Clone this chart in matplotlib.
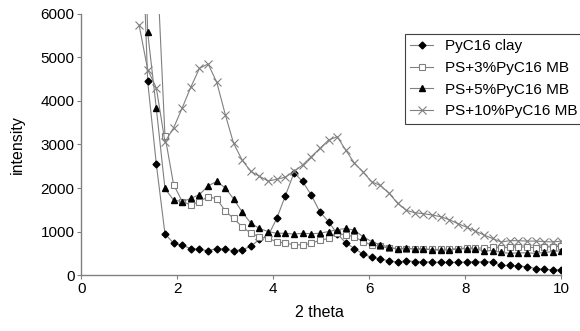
import matplotlib.pyplot as plt
import numpy as np

plt.rcParams.update({'font.family': ['Liberation Sans', 'DejaVu Sans'], 'font.size': 10})

# 2 theta positions
theta = [1.20, 1.38, 1.56, 1.74, 1.92, 2.10, 2.28, 2.46, 2.64, 2.82,
         3.00, 3.17, 3.35, 3.53, 3.71, 3.89, 4.07, 4.25, 4.43, 4.61,
         4.79, 4.97, 5.15, 5.33, 5.51, 5.69, 5.87, 6.05, 6.23, 6.41,
         6.59, 6.77, 6.95, 7.13, 7.31, 7.49, 7.67, 7.85, 8.03, 8.21,
         8.39, 8.57, 8.75, 8.93, 9.11, 9.29, 9.47, 9.65, 9.83, 10.00]

clay = [10000, 4450, 2550, 950, 730, 680, 610, 590, 560, 610,
        590, 560, 580, 660, 820, 900, 1300, 1820, 2350, 2150,
        1840, 1450, 1230, 950, 740, 610, 480, 410, 370, 330,
        290, 330, 310, 300, 300, 290, 290, 290, 300, 300,
        310, 300, 220, 220, 210, 190, 150, 130, 120, 120]

mb3 = [60000, 40000, 7500, 3200, 2080, 1690, 1610, 1690, 1800, 1750,
       1470, 1300, 1110, 960, 880, 840, 770, 730, 700, 690,
       730, 800, 840, 960, 920, 880, 770, 690, 660, 620,
       610, 610, 600, 600, 590, 590, 600, 600, 630, 620,
       620, 640, 620, 640, 650, 640, 630, 640, 650, 660]

mb5 = [12000, 5580, 3830, 1990, 1720, 1690, 1760, 1850, 2050, 2150,
       2000, 1750, 1450, 1190, 1070, 1000, 960, 960, 940, 960,
       950, 960, 1000, 1040, 1070, 1030, 880, 770, 690, 650,
       590, 620, 600, 600, 580, 570, 580, 600, 610, 600,
       560, 560, 520, 500, 510, 510, 500, 520, 540, 560]

mb10 = [5750, 4720, 4300, 3060, 3380, 3840, 4320, 4750, 4850, 4430,
        3680, 3030, 2640, 2380, 2270, 2160, 2200, 2250, 2380, 2530,
        2720, 2910, 3100, 3180, 2870, 2570, 2370, 2140, 2060, 1880,
        1650, 1490, 1430, 1410, 1380, 1340, 1270, 1180, 1100, 1010,
        920, 840, 760, 790, 790, 780, 780, 770, 760, 780]

labels = ['PyC16 clay', 'PS+3%PyC16 MB', 'PS+5%PyC16 MB', 'PS+10%PyC16 MB']

gr = '#808080'
fig = plt.figure(figsize=(5.8, 3.31), dpi=100)
ax = fig.add_axes([0.1405, 0.169, 0.827, 0.789])

ax.plot(theta, clay, color=gr, lw=0.8, marker='D', ms=3.5, mfc='black', mec='black', label=labels[0])
ax.plot(theta, mb3, color=gr, lw=0.8, marker='s', ms=5, mfc='white', mec=gr, mew=0.8, label=labels[1])
ax.plot(theta, mb5, color=gr, lw=0.8, marker='^', ms=4.5, mfc='black', mec='black', label=labels[2])
ax.plot(theta, mb10, color=gr, lw=0.8, marker='x', ms=6, mec=gr, mew=0.8, label=labels[3])

ax.set_xlim(0, 10)
ax.set_ylim(0, 6000)
ax.set_xticks(np.arange(0, 11, 2))
ax.set_yticks(np.arange(0, 7000, 1000))
for s in ['top', 'right']:
    ax.spines[s].set_visible(False)
for s in ['left', 'bottom']:
    ax.spines[s].set_color(gr)
    ax.spines[s].set_linewidth(1.0)
ax.tick_params(direction='out', length=3, color=gr, labelsize=11, pad=2)
ax.set_xlabel('2 theta', fontsize=11.5)
ax.set_ylabel('intensity', fontsize=11.5)
ax.xaxis.set_label_coords(0.497, -0.115)
ax.yaxis.set_label_coords(-0.118, 0.5)

leg = ax.legend(loc='upper left', bbox_to_anchor=(405 / 580, 1 - 34 / 331),
                bbox_transform=fig.transFigure, fancybox=False, framealpha=1,
                edgecolor='#404040', fontsize=11, handlelength=1.5,
                handletextpad=0.8, labelspacing=0.5, borderpad=0.35, borderaxespad=0)
leg.get_frame().set_linewidth(0.8)

fig.savefig('out.png', dpi=100)
